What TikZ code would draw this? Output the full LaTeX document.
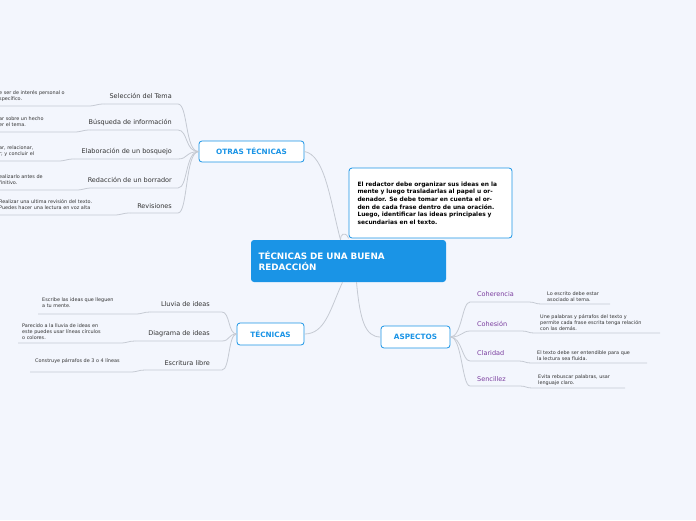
\documentclass[tikz,border=0pt]{standalone}
\usepackage{fontspec}
\setmainfont{DejaVu Sans}
\definecolor{bg}{HTML}{F3F6FD}
\definecolor{ln}{HTML}{C5CAD3}
\definecolor{bl}{HTML}{1A94E6}
\definecolor{pu}{HTML}{7A3C9E}
\definecolor{tx}{HTML}{333333}
\begin{document}
\begin{tikzpicture}[x=1pt,y=-1pt,
 box/.style={draw=bl,fill=white,rounded corners=3pt,line width=0.8pt,font=\bfseries\fontsize{7.3}{8}\selectfont,text=bl,inner sep=0pt},
 sub/.style={font=\fontsize{6.5}{7}\selectfont,text=tx,inner sep=0pt},
 asp/.style={font=\fontsize{6.5}{7}\selectfont,text=pu,inner sep=0pt,anchor=west},
 leaf/.style={font=\fontsize{4.9}{6}\selectfont,text=tx,inner sep=0pt,align=left,anchor=west},
 con/.style={draw=ln,line width=0.8pt}]
\fill[bg] (0,0) rectangle (696,520);
\useasboundingbox (0,0) rectangle (696,520);
% central
\node[fill=bl,rounded corners=3pt,minimum width=195pt,minimum height=42pt,text width=180pt,align=left,text=white,font=\bfseries\fontsize{8.8}{11}\selectfont,inner sep=0pt] (c) at (348.5,261) {TÉCNICAS DE UNA BUENA\\REDACCIÓN};
\node[box,minimum width=105pt,minimum height=21pt] (o) at (251.5,151.5) {OTRAS TÉCNICAS};
\node[box,minimum width=67pt,minimum height=22pt] (t) at (270.5,334) {TÉCNICAS};
\node[box,minimum width=69pt,minimum height=22pt] (a) at (415.5,337) {ASPECTOS};
\node[draw=bl,fill=white,rounded corners=3pt,line width=0.8pt,minimum width=163pt,minimum height=70pt,text width=146pt,align=left,font=\bfseries\fontsize{5.9}{7.6}\selectfont,inner sep=0pt] (n) at (430.5,203) {El redactor debe organizar sus ideas en la mente y luego trasladarlas al papel u ordenador. Se debe tomar en cuenta el orden de cada frase dentro de una oración. Luego, identificar las ideas principales y secundarias en el texto.};
\draw[con] (c.north) ++(-8,0) .. controls (330,200) and (325,155) .. (o.east);
\draw[con] (c.north) ++(-8,0) .. controls (340,235) and (345,230) .. (n.south west);
\draw[con] (c.south) ++(-6,0) .. controls (330,310) and (325,334) .. (t.east);
\draw[con] (c.south) ++(8,0) .. controls (360,320) and (365,337) .. (a.west);
% otras tecnicas
\foreach \nm/\y/\txt/\ly/\la/\lb/\lend in {
 s1/96/Selección del Tema/104/{e ser de interés personal o}/{specífico.}/92,
 s2/122/Búsqueda de información/130/{ar sobre un hecho}/{er el tema.}/78,
 s3/151/Elaboración de un bosquejo/159/{ar, relacionar,}/{r; y concluir el}/62,
 s4/180/Redacción de un borrador/188/{ealizarlo antes de}/{finitivo.}/80,
 s5/206/Revisiones/213/{Realizar una ultima revisión del texto.}/{Puedes hacer una lectura en voz alta}/118}{
 \node[sub,anchor=base east] (\nm) at (172,\y+2) {\txt};
 \coordinate (\nm r) at (178,\ly);
 \coordinate (\nm l) at (\lend+12,\ly);
 \draw[con] (o.west) .. controls (185,152) and (188,\ly) .. (\nm r) -- (\nm l);
 \node[leaf] (\nm x) at (-1,\ly-8) {\la\\\lb};
 \draw[con] (\nm l) .. controls (\lend+4,\ly) and (\lend+4,\ly+2) .. (\lend-4,\ly+2) -- (0,\ly+2);
}
% tecnicas
\foreach \nm/\y/\txt/\ly/\lx/\ll/\lr/\tt in {
 t1/304/Lluvia de ideas/312/42/38/140/{Escribe las ideas que lleguen\\a tu mente.},
 t2/333/Diagrama de ideas/341/22/18/125/{Parecido a la lluvia de ideas en\\este puedes usar líneas círculos\\o colores.},
 t3/363/Escritura libre/370/35/30/135/{Construye párrafos de 3 o 4 líneas}}{
 \node[sub,anchor=base east] (\nm) at (210,\y+2) {\txt};
 \coordinate (\nm r) at (222,\ly);
 \coordinate (\nm l) at (\lr+10,\ly);
 \draw[con] (t.west) .. controls (228,334) and (230,\ly) .. (\nm r) -- (\nm l);
 \node[leaf] (\nm x) at (\lx,\ly-9) {\tt};
 \draw[con] (\nm l) .. controls (\lr+3,\ly) and (\lr+3,\ly+2) .. (\lr-5,\ly+2) -- (\ll,\ly+2);
}
% aspectos
\foreach \nm/\y/\txt/\ly/\lx/\le/\tt in {
 a1/294/Coherencia/302/547/610/{Lo escrito debe estar\\asociado al tema.},
 a2/324/Cohesión/331/540/660/{Une palabras y párrafos del texto y\\permite cada frase escrita tenga relación\\con las demás.},
 a3/353/Claridad/361/537/647/{El texto debe ser entendible para que\\la lectura sea fluida.},
 a4/379/Sencillez/386/538/625/{Evita rebuscar palabras, usar\\lenguaje claro.}}{
 \node[asp,anchor=base west] (\nm) at (477,\y+2) {\txt};
 \coordinate (\nm l) at (470,\ly);
 \coordinate (\nm r) at (\lx-18,\ly);
 \draw[con] (a.east) .. controls (462,337) and (462,\ly) .. (\nm l) -- (\nm r) .. controls (\lx-12,\ly) and (\lx-12,\ly+2) .. (\lx-6,\ly+2) -- (\le,\ly+2);
 \node[leaf,anchor=south west] (\nm x) at (\lx,\ly) {\tt};
}
\end{tikzpicture}
\end{document}
